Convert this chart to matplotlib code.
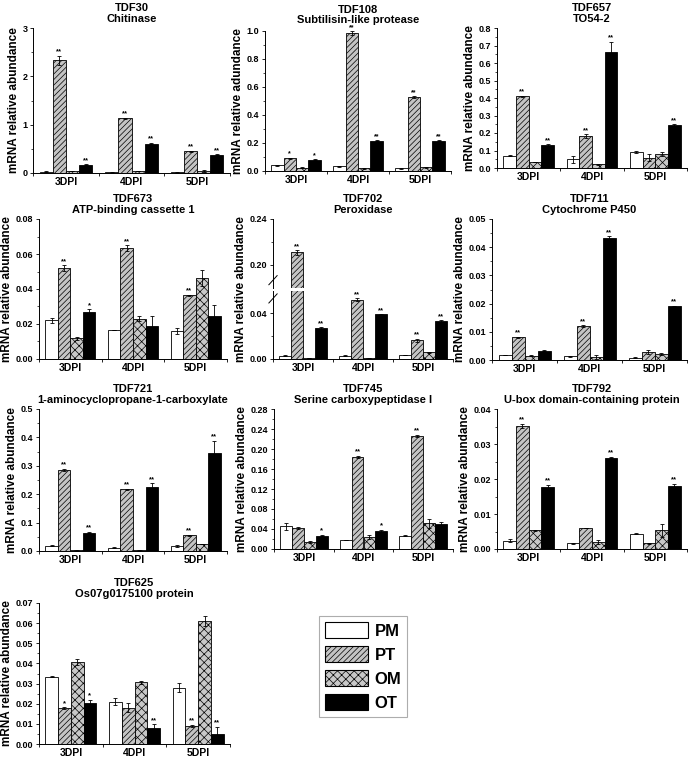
import matplotlib
matplotlib.use('Agg')
import matplotlib.pyplot as plt
from matplotlib.patches import Patch
from matplotlib.ticker import MultipleLocator, AutoMinorLocator, FormatStrFormatter, FixedLocator
import numpy as np

plt.rcParams['font.family'] = ['Liberation Sans', 'DejaVu Sans']
plt.rcParams['font.weight'] = 'bold'
plt.rcParams['axes.titleweight'] = 'bold'
plt.rcParams['axes.labelweight'] = 'bold'
plt.rcParams['hatch.linewidth'] = 0.5

W, H = 689, 761

GROUPS = ['3DPI', '4DPI', '5DPI']
SERIES = ['PM', 'PT', 'OM', 'OT']

# values per series: PM, PT, OM, OT  (each over 3DPI, 4DPI, 5DPI)
TDF30_MEAN = [[0.03, 0.02, 0.02], [2.33, 1.13, 0.45], [0.04, 0.04, 0.05], [0.17, 0.61, 0.38]]
TDF30_ERR = [[0.005, 0.01, 0.01], [0.1, 0.01, 0.015], [0.005, 0.005, 0.02], [0.01, 0.02, 0.01]]
TDF30_STARS = [['', '', ''], ['**', '**', '**'], ['', '', ''], ['**', '**', '**']]

TDF108_MEAN = [[0.04, 0.035, 0.02], [0.09, 0.985, 0.53], [0.025, 0.018, 0.027], [0.08, 0.215, 0.217]]
TDF108_ERR = [[0.002, 0.003, 0.005], [0.004, 0.012, 0.005], [0.003, 0.004, 0.004], [0.003, 0.003, 0.004]]
TDF108_STARS = [['', '', ''], ['*', '**', '**'], ['', '', ''], ['*', '**', '**']]

TDF657_MEAN = [[0.07, 0.05, 0.092], [0.41, 0.182, 0.06], [0.034, 0.021, 0.081], [0.13, 0.665, 0.246]]
TDF657_ERR = [[0.003, 0.02, 0.008], [0.004, 0.01, 0.018], [0.002, 0.003, 0.01], [0.005, 0.055, 0.005]]
TDF657_STARS = [['', '', ''], ['**', '**', ''], ['', '', ''], ['**', '**', '**']]

TDF673_MEAN = [[0.022, 0.0165, 0.0158], [0.052, 0.0634, 0.0365], [0.0118, 0.023, 0.0462], [0.027, 0.019, 0.0248]]
TDF673_ERR = [[0.0012, 0.0002, 0.0017], [0.0015, 0.0015, 0.0003], [0.001, 0.0015, 0.0045], [0.0014, 0.0055, 0.0062]]
TDF673_STARS = [['', '', ''], ['**', '**', '**'], ['', '', ''], ['*', '', '']]

TDF702_MEAN = [[0.003, 0.003, 0.0035], [0.211, 0.052, 0.0164], [0.001, 0.0008, 0.0058], [0.027, 0.039, 0.0333]]
TDF702_ERR = [[0.0005, 0.0005, 0.0003], [0.002, 0.0012, 0.0012], [0.0002, 0.0002, 0.0005], [0.0006, 0.0003, 0.0008]]
TDF702_STARS = [['', '', ''], ['**', '**', '**'], ['', '', ''], ['**', '**', '**']]

TDF711_MEAN = [[0.0017, 0.0013, 0.0008], [0.0081, 0.012, 0.0027], [0.0015, 0.001, 0.0021], [0.0033, 0.0431, 0.019]]
TDF711_ERR = [[0.0001, 0.0002, 0.0002], [0.0002, 0.0003, 0.0007], [0.0002, 0.0007, 0.0005], [0.0001, 0.0008, 0.0003]]
TDF711_STARS = [['', '', ''], ['**', '**', ''], ['', '', ''], ['', '**', '**']]

TDF721_MEAN = [[0.018, 0.012, 0.0165], [0.286, 0.217, 0.055], [0.002, 0.002, 0.025], [0.065, 0.224, 0.344]]
TDF721_ERR = [[0.002, 0.003, 0.003], [0.004, 0.003, 0.003], [0.0005, 0.0005, 0.001], [0.003, 0.015, 0.045]]
TDF721_STARS = [['', '', ''], ['**', '**', '**'], ['', '', ''], ['**', '**', '**']]

TDF745_MEAN = [[0.046, 0.018, 0.027], [0.042, 0.185, 0.227], [0.014, 0.025, 0.052], [0.027, 0.037, 0.051]]
TDF745_ERR = [[0.007, 0.0005, 0.0005], [0.002, 0.002, 0.002], [0.002, 0.004, 0.009], [0.0015, 0.002, 0.004]]
TDF745_STARS = [['', '', ''], ['', '**', '**'], ['', '', ''], ['*', '*', '']]

TDF792_MEAN = [[0.0024, 0.0016, 0.0044], [0.0352, 0.006, 0.0016], [0.0053, 0.002, 0.0053], [0.0177, 0.0261, 0.0179]]
TDF792_ERR = [[0.0005, 0.0002, 0.0002], [0.0006, 0.0001, 0.0001], [0.0001, 0.0005, 0.0018], [0.0006, 0.0002, 0.0007]]
TDF792_STARS = [['', '', ''], ['**', '', ''], ['', '', ''], ['**', '**', '**']]

TDF625_MEAN = [[0.0335, 0.021, 0.028], [0.0178, 0.018, 0.0091], [0.0405, 0.0307, 0.0609], [0.0203, 0.0078, 0.005]]
TDF625_ERR = [[0.0001, 0.0018, 0.0022], [0.0005, 0.0023, 0.0005], [0.0015, 0.0008, 0.0025], [0.0017, 0.002, 0.0035]]
TDF625_STARS = [['', '', ''], ['*', '', '**'], ['', '', ''], ['*', '**', '**']]

YLABEL = 'mRNA relative abundance'

BAR_W = 0.2
STYLE = {
    'PM': dict(facecolor='white'),
    'PT': dict(facecolor='#c4c4c4', hatch='//////'),
    'OM': dict(facecolor='#c8c8c8', hatch='xxxx'),
    'OT': dict(facecolor='black'),
}


def px_axes(fig, left, top, right, bottom):
    return fig.add_axes([left / W, 1 - bottom / H, (right - left) / W, (bottom - top) / H])


def draw_bars(ax, mean, err, stars, star_size=5.5):
    x = np.arange(1, len(GROUPS) + 1)
    for i, name in enumerate(SERIES):
        xs = x + (i - 1.5) * BAR_W
        ax.bar(xs, mean[i], BAR_W, yerr=err[i], edgecolor='black', linewidth=0.6,
               error_kw=dict(elinewidth=0.6, capsize=1.5, capthick=0.6, ecolor='black'),
               **STYLE[name])
        for xx, m, e, s in zip(xs, mean[i], err[i], stars[i]):
            if s:
                ax.annotate(s, (xx, m + e), xytext=(0, 0.2), textcoords='offset points',
                            ha='center', va='bottom', fontsize=star_size)


def style_axes(ax, ymin, ymax, step, fmt, xlabels=True):
    ax.set_xlim(0.5, 3.5)
    ax.set_ylim(ymin, ymax)
    ax.spines[['top', 'right']].set_visible(False)
    for sp in ax.spines.values():
        sp.set_linewidth(0.7)
    ax.set_xticks([0.5, 1.5, 2.5, 3.5])
    ax.set_xticklabels([])
    ax.set_xticks([1, 2, 3], minor=True)
    ax.set_xticklabels(GROUPS if xlabels else [], minor=True)
    ax.tick_params(axis='x', which='minor', length=0, labelsize=7.5, pad=3)
    ax.tick_params(axis='x', which='major', length=2.5, width=0.6, direction='out')
    ax.yaxis.set_major_locator(MultipleLocator(step))
    ax.yaxis.set_minor_locator(AutoMinorLocator(2))
    ax.yaxis.set_major_formatter(FormatStrFormatter(fmt))
    ax.tick_params(axis='y', which='major', length=2.5, width=0.6, labelsize=6.5, pad=1.5)
    ax.tick_params(axis='y', which='minor', length=1.5, width=0.5)


def panel(fig, box, name, desc, mean, err, stars, ymax, step, fmt, ylabel=YLABEL, pad=4, ls=1.15,
          star_size=5.5):
    ax = px_axes(fig, *box)
    draw_bars(ax, mean, err, stars, star_size)
    style_axes(ax, 0, ymax, step, fmt)
    ax.set_title(name + '\n' + desc, fontsize=8, pad=pad, linespacing=ls)
    ax.set_ylabel(ylabel, fontsize=8.5, labelpad=2)
    return ax


fig = plt.figure(figsize=(W / 100, H / 100), dpi=100)

panel(fig, (33, 28, 230, 173), 'TDF30', 'Chitinase', TDF30_MEAN, TDF30_ERR, TDF30_STARS, 3, 1, '%d')
panel(fig, (265, 31, 451, 171), 'TDF108', 'Subtilisin-like protease', TDF108_MEAN, TDF108_ERR, TDF108_STARS,
      1.0, 0.2, '%.1f', ylabel='mRNA relative adundance', pad=6, ls=1.0, star_size=5)
panel(fig, (497, 28, 687, 168), 'TDF657', 'TO54-2', TDF657_MEAN, TDF657_ERR, TDF657_STARS, 0.8, 0.1, '%.1f')

panel(fig, (39, 219, 227, 359), 'TDF673', 'ATP-binding cassette 1', TDF673_MEAN, TDF673_ERR, TDF673_STARS,
      0.08, 0.02, '%.2f')

# TDF702: broken y axis (0-0.06 and 0.18-0.24)
lo = px_axes(fig, 273, 290.5, 453, 359)
hi = px_axes(fig, 273, 219, 453, 288)
for ax in (lo, hi):
    draw_bars(ax, TDF702_MEAN, TDF702_ERR, TDF702_STARS)
style_axes(lo, 0, 0.06, 0.04, '%.2f')
style_axes(hi, 0.18, 0.24, 0.04, '%.2f', xlabels=False)
hi.yaxis.set_major_locator(FixedLocator([0.20, 0.24]))
lo.yaxis.set_minor_locator(FixedLocator([0.02]))
hi.yaxis.set_minor_locator(FixedLocator([0.22]))
hi.spines['bottom'].set_visible(False)
hi.tick_params(axis='x', which='both', bottom=False)
hi.set_title('TDF702\nPeroxidase', fontsize=8, pad=4, linespacing=1.15)
lo.set_ylabel(YLABEL, fontsize=8.5, labelpad=2)
lo.yaxis.set_label_coords(-0.145, 1.02)
for dy in (-0.012, 0.012):
    fig.add_artist(plt.Line2D([273 / W - 0.006, 273 / W + 0.006],
                              [1 - 289.3 / H + dy - 0.006, 1 - 289.3 / H + dy + 0.006],
                              color='black', lw=0.7))

panel(fig, (492, 219, 687, 360), 'TDF711', 'Cytochrome P450', TDF711_MEAN, TDF711_ERR, TDF711_STARS,
      0.05, 0.01, '%.2f')

panel(fig, (39, 409, 227, 551), 'TDF721', '1-aminocyclopropane-1-carboxylate', TDF721_MEAN, TDF721_ERR,
      TDF721_STARS, 0.5, 0.1, '%.1f')
panel(fig, (274, 409, 453, 549), 'TDF745', 'Serine carboxypeptidase I', TDF745_MEAN, TDF745_ERR, TDF745_STARS,
      0.28, 0.04, '%.2f')
panel(fig, (497, 409, 687, 549), 'TDF792', 'U-box domain-containing protein', TDF792_MEAN, TDF792_ERR,
      TDF792_STARS, 0.04, 0.01, '%.2f')

panel(fig, (39, 603, 230, 744), 'TDF625', 'Os07g0175100 protein', TDF625_MEAN, TDF625_ERR, TDF625_STARS,
      0.07, 0.01, '%.2f')

handles = [Patch(edgecolor='black', linewidth=0.8, label=name, **STYLE[name]) for name in SERIES]
leg = fig.legend(handles=handles, loc='upper left', bbox_to_anchor=(319 / W, 1 - 616 / H),
                 frameon=True, fancybox=False, edgecolor='#999999', fontsize=12,
                 handlelength=2.6, handleheight=1.1, labelspacing=0.45, handletextpad=0.4,
                 borderpad=0.35, borderaxespad=0)
leg.get_frame().set_linewidth(0.8)

fig.savefig('out.png', dpi=100)
